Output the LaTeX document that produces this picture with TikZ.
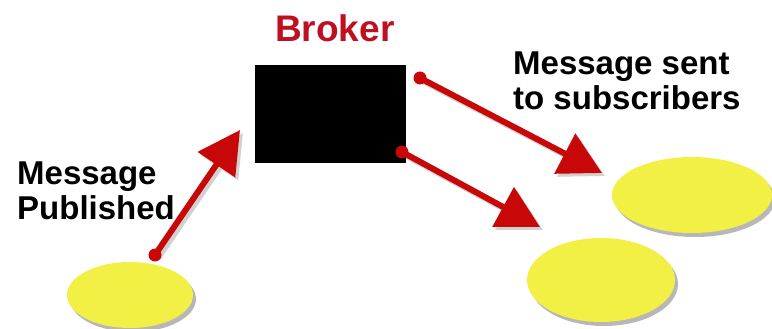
\documentclass[tikz,border=0pt]{standalone}
\usepackage{fontspec}
\setmainfont{Liberation Sans}
\usetikzlibrary{arrows.meta,shapes.geometric,shadows}

\definecolor{blobyellow}{HTML}{F2EF45}
\definecolor{arrowred}{HTML}{C80808}
\definecolor{brokerred}{HTML}{BE1020}

\begin{document}
\begin{tikzpicture}[x=1pt,y=-1pt,
  blob/.style={ellipse,fill=blobyellow,draw=none,inner sep=0,
    drop shadow={shadow xshift=3pt,shadow yshift=-4pt,fill=black!70,opacity=0.4}},
  feedtip/.tip={Triangle[length=42pt,width=44pt]},
  feed/.style={draw=arrowred,line width=6pt,-feedtip},
  feedshade/.style={draw=black,line width=6pt,-feedtip},
  feeddot/.style={circle,fill=arrowred,inner sep=0,minimum size=13pt},
  caption/.style={font=\fontsize{33}{34.5}\selectfont\bfseries,align=left,
    inner sep=0,anchor=north west}]

\useasboundingbox (0,0) rectangle (772,329);

% publisher and subscribers
\node[blob,minimum width=126pt,minimum height=66pt] (pub) at (130,295) {};
\node[blob,minimum width=160pt,minimum height=76pt] (subA) at (692,195) {};
\node[blob,minimum width=148pt,minimum height=84pt] (subB) at (601,280) {};

% broker box
\node[fill=black,minimum width=151pt,minimum height=98pt,inner sep=0] (broker) at (330.5,114) {};
\node[font=\fontsize{37}{40}\selectfont\bfseries,text=brokerred,inner sep=0,anchor=base west]
  (title) at (275,42) {Broker};

% arrow start dots and arrow ends
\coordinate (d1) at (155,255);
\coordinate (d2) at (420,78);
\coordinate (d3) at (402,152);
\coordinate (t1) at (240,130);
\coordinate (t2) at (602,173);
\coordinate (t3) at (540,227);

% soft shadows of the arrows
\begin{scope}[transparency group,opacity=0.18]
  \draw[feedshade] ([shift={(3,3)}]d1) -- ([shift={(3,3)}]t1);
  \draw[feedshade] ([shift={(3,3)}]d2) -- ([shift={(3,3)}]t2);
  \draw[feedshade] ([shift={(3,3)}]d3) -- ([shift={(3,3)}]t3);
\end{scope}

% arrows
\draw[feed] (d1) -- (t1);
\draw[feed] (d2) -- (t2);
\draw[feed] (d3) -- (t3);
\node[feeddot] (s1) at (d1) {};
\node[feeddot] (s2) at (d2) {};
\node[feeddot] (s3) at (d3) {};

% captions
\node[caption] (pubtxt) at (17,162) {Message\\Published};
\node[caption] (subtxt) at (513,52) {Message sent\\to subscribers};
\end{tikzpicture}
\end{document}
